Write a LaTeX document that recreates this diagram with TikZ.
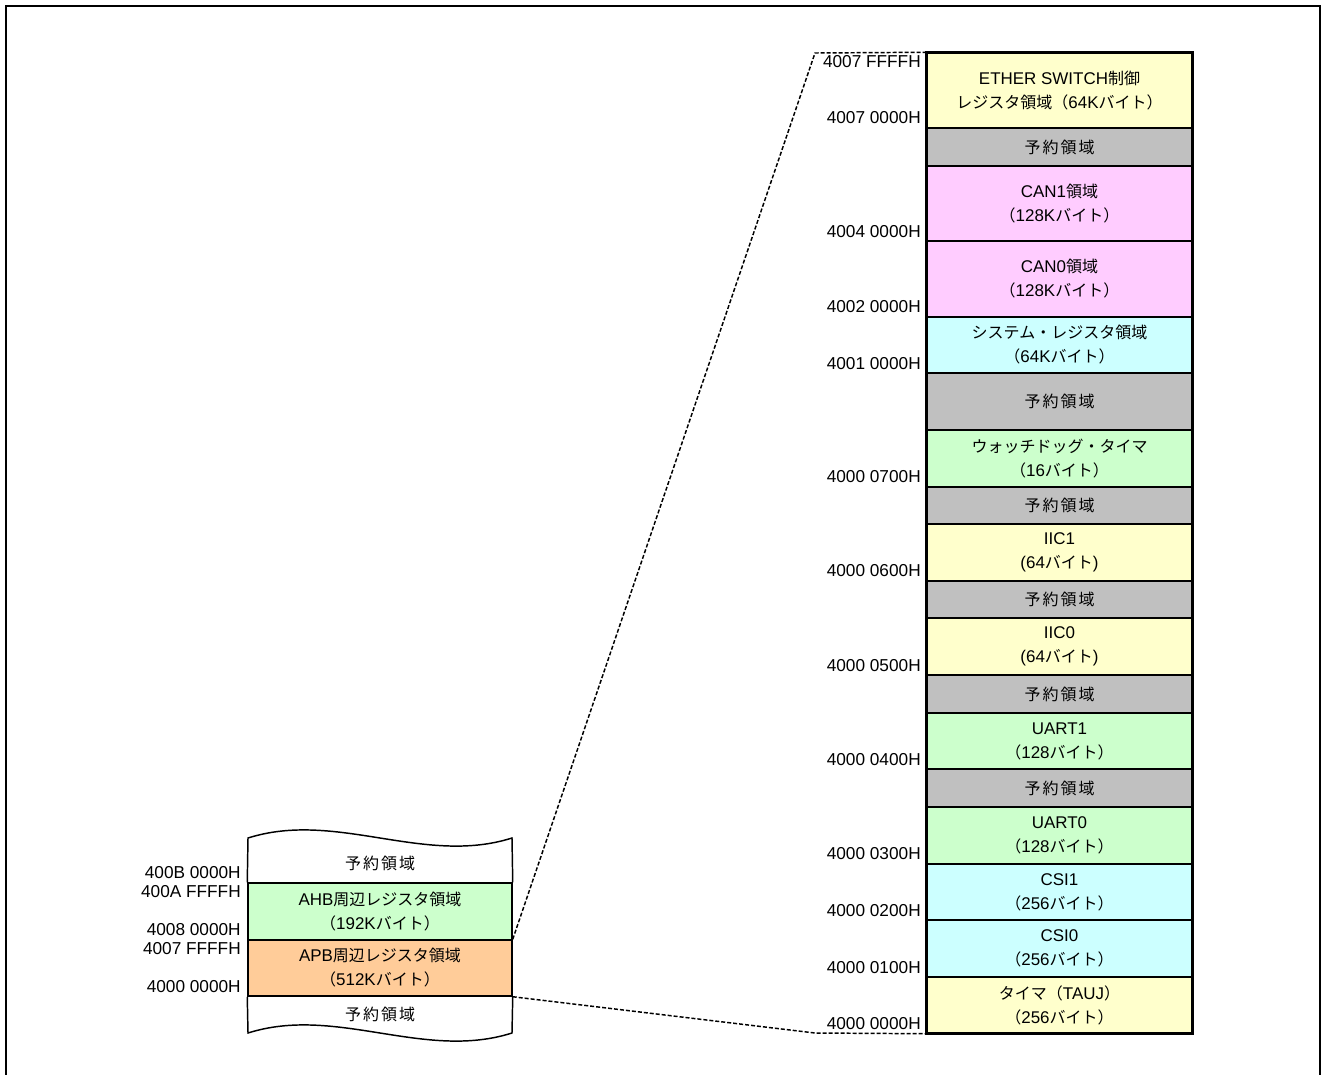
\documentclass[tikz,border=0pt]{standalone}
\usepackage{fontspec}
\setmainfont{Noto Sans CJK JP}
\newfontfamily\latfont[Scale=1.06]{Liberation Sans}
\newcommand{\la}[1]{{\latfont #1}}
\definecolor{cyel}{HTML}{FFFFCC}
\definecolor{cgry}{HTML}{C0C0C0}
\definecolor{cpnk}{HTML}{FFCCFF}
\definecolor{ccyn}{HTML}{CCFFFF}
\definecolor{cgrn}{HTML}{CCFFCC}
\definecolor{corg}{HTML}{FFCC99}
\newcommand{\yyk}{予\kern1.5pt 約\kern1.5pt 領\kern1.5pt 域}
\begin{document}
\begin{tikzpicture}[x=0.75pt,y=-0.75pt,
  rb/.style={draw, line width=1.1pt, minimum width=198.75pt, inner sep=0pt, align=center,
    font=\fontsize{12}{18}\selectfont},
  lb/.style={draw, line width=1.1pt, minimum width=198pt, inner sep=0pt, align=center,
    font=\fontsize{12}{18}\selectfont},
  bh/.style={minimum height=#1*0.75pt},
  addr/.style={anchor=base east, inner sep=0pt, font=\latfont\fontsize{12.2}{14}\selectfont},
  conn/.style={line width=1.1pt, dash pattern=on 3pt off 1.5pt}
]
\useasboundingbox (0,0) rectangle (1322,1075);
% outer frame
\draw[line width=1.6pt] (6,1080) -- (6,6) -- (1320,6) -- (1320,1080);

% right column
\node[rb, bh=75, fill=cyel] (r1) at (1059.5,90.5) {\la{ETHER SWITCH}制御\\レジスタ領域（\la{64K}バイト）};
\node[rb, bh=38, fill=cgry] (r2) at (1059.5,147) {\yyk};
\node[rb, bh=75, fill=cpnk] (r3) at (1059.5,203.5) {\la{CAN1}領域\\（\la{128K}バイト）};
\node[rb, bh=76, fill=cpnk] (r4) at (1059.5,279) {\la{CAN0}領域\\（\la{128K}バイト）};
\node[rb, bh=56, fill=ccyn] (r5) at (1059.5,345) {システム・レジスタ領域\\（\la{64K}バイト）};
\node[rb, bh=57, fill=cgry] (r6) at (1059.5,401.5) {\yyk};
\node[rb, bh=57, fill=cgrn] (r7) at (1059.5,458.5) {ウォッチドッグ・タイマ\\（\la{16}バイト）};
\node[rb, bh=37, fill=cgry] (r8) at (1059.5,505.5) {\yyk};
\node[rb, bh=57, fill=cyel] (r9) at (1059.5,552.5) {\la{IIC1}\\\la{(64}バイト\la{)}};
\node[rb, bh=37, fill=cgry] (r10) at (1059.5,599.5) {\yyk};
\node[rb, bh=57, fill=cyel] (r11) at (1059.5,646.5) {\la{IIC0}\\\la{(64}バイト\la{)}};
\node[rb, bh=38, fill=cgry] (r12) at (1059.5,694) {\yyk};
\node[rb, bh=56, fill=cgrn] (r13) at (1059.5,741) {\la{UART1}\\（\la{128}バイト）};
\node[rb, bh=38, fill=cgry] (r14) at (1059.5,788) {\yyk};
\node[rb, bh=57, fill=cgrn] (r15) at (1059.5,835.5) {\la{UART0}\\（\la{128}バイト）};
\node[rb, bh=56, fill=ccyn] (r16) at (1059.5,892) {\la{CSI1}\\（\la{256}バイト）};
\node[rb, bh=57, fill=ccyn] (r17) at (1059.5,948.5) {\la{CSI0}\\（\la{256}バイト）};
\node[rb, bh=56, fill=cyel] (r18) at (1059.5,1005) {タイマ（\la{TAUJ}）\\（\la{256}バイト）};
\draw[line width=1.9pt] (r1.north west) rectangle (r18.south east);

% right addresses
\node[addr] (a0) at (921,67) {4007 FFFFH};
\node[addr] (a1) at (921,123) {4007 0000H};
\node[addr] (a2) at (921,237) {4004 0000H};
\node[addr] (a3) at (921,312) {4002 0000H};
\node[addr] (a4) at (921,369) {4001 0000H};
\node[addr] (a5) at (921,482) {4000 0700H};
\node[addr] (a6) at (921,576) {4000 0600H};
\node[addr] (a7) at (921,671) {4000 0500H};
\node[addr] (a8) at (921,765) {4000 0400H};
\node[addr] (a9) at (921,859) {4000 0300H};
\node[addr] (a10) at (921,916) {4000 0200H};
\node[addr] (a11) at (921,973) {4000 0100H};
\node[addr] (a12) at (921,1029) {4000 0000H};

% left column
\node[lb, bh=57, fill=cgrn] (ahb) at (380,911.5) {\la{AHB}周辺レジスタ領域\\（\la{192K}バイト）};
\node[lb, bh=56, fill=corg] (apb) at (380,968) {\la{APB}周辺レジスタ領域\\（\la{512K}バイト）};
\draw[line width=1.1pt] (ahb.north west) -- (248,838) .. controls (336,810) and (424,866) .. (512,838) -- (ahb.north east);
\draw[line width=1.1pt] (apb.south west) -- (248,1033) .. controls (336,1005) and (424,1061) .. (512,1033) -- (apb.south east);
\node[font=\fontsize{12}{18}\selectfont] (lres1) at (380,863) {\yyk};
\node[font=\fontsize{12}{18}\selectfont] (lres2) at (380,1014) {\yyk};

% left addresses
\node[addr] (b0) at (241,878) {400B 0000H};
\node[addr] (b1) at (241,897) {400A FFFFH};
\node[addr] (b2) at (241,935) {4008 0000H};
\node[addr] (b3) at (241,954) {4007 FFFFH};
\node[addr] (b4) at (241,992) {4000 0000H};

% connectors
\coordinate (ctop) at (815,53);
\coordinate (cbot) at (815,1033);
\draw[conn] (apb.north east) -- (ctop) -- (r1.north west);
\draw[conn] (apb.south east) -- (cbot) -- (r18.south west);
\end{tikzpicture}
\end{document}
